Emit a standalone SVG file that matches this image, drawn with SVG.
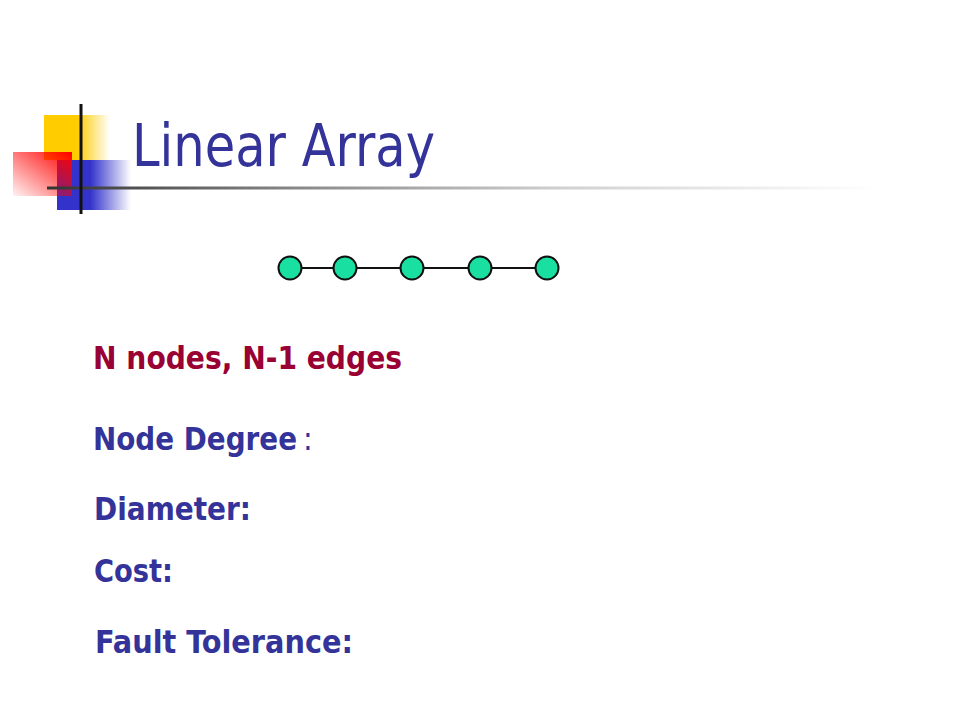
<svg xmlns="http://www.w3.org/2000/svg" width="960" height="720" viewBox="0 0 960 720">
<defs>
<linearGradient id="gY" x1="0" y1="0" x2="1" y2="0">
<stop offset="0" stop-color="#FFCC00"/><stop offset="0.5" stop-color="#FFCC00"/><stop offset="1" stop-color="#FFCC00" stop-opacity="0"/>
</linearGradient>
<linearGradient id="gB" x1="0" y1="0" x2="1" y2="0">
<stop offset="0" stop-color="#3333CC"/><stop offset="0.45" stop-color="#3333CC"/><stop offset="1" stop-color="#3333CC" stop-opacity="0"/>
</linearGradient>
<linearGradient id="gR" x1="1" y1="0" x2="0" y2="1">
<stop offset="0" stop-color="#FF0000"/><stop offset="1" stop-color="#FF0000" stop-opacity="0.05"/>
</linearGradient>
<linearGradient id="gL" x1="0" y1="0" x2="1" y2="0">
<stop offset="0" stop-color="#333333"/><stop offset="0.3" stop-color="#888888"/><stop offset="0.62" stop-color="#D0D0D0"/><stop offset="1" stop-color="#FFFFFF"/>
</linearGradient>
<style>
.node{fill:#19DFA0;stroke:#111;stroke-width:2}
.edge{stroke:#111;stroke-width:2}
.t{font-family:"DejaVu Sans Condensed","DejaVu Sans",sans-serif;font-weight:bold;font-size:32px;fill:#333399}
.red{fill:#990033}
</style>
</defs>
<rect width="960" height="720" fill="#FFFFFF"/>
<g id="logo">
<rect x="44" y="115" width="66" height="45" fill="url(#gY)"/>
<rect x="57" y="160" width="74" height="50" fill="url(#gB)"/>
<rect x="13" y="152" width="59" height="44" fill="url(#gR)"/>
<rect x="47" y="186.5" width="830" height="3" fill="url(#gL)"/>
<rect x="79.5" y="104" width="3" height="110" fill="#111"/>
</g>
<text id="title" x="132" y="166" font-family="DejaVu Sans Condensed, DejaVu Sans, sans-serif" font-size="58" fill="#333399" textLength="303" lengthAdjust="spacingAndGlyphs">Linear Array</text>
<g id="connectors">
<line class="edge" x1="302" y1="268" x2="333" y2="268"/>
<line class="edge" x1="357" y1="268" x2="400" y2="268"/>
<line class="edge" x1="424" y1="268" x2="468" y2="268"/>
<line class="edge" x1="492" y1="268" x2="535" y2="268"/>
</g>
<g id="n1"><circle class="node" cx="290" cy="268" r="11.5"/></g>
<g id="n2"><circle class="node" cx="345" cy="268" r="11.5"/></g>
<g id="n3"><circle class="node" cx="412" cy="268" r="11.5"/></g>
<g id="n4"><circle class="node" cx="480" cy="268" r="11.5"/></g>
<g id="n5"><circle class="node" cx="547" cy="268" r="11.5"/></g>
<text class="t red" x="93" y="369" textLength="309" lengthAdjust="spacingAndGlyphs">N nodes, N-1 edges</text>
<text class="t" x="93" y="450" textLength="204" lengthAdjust="spacingAndGlyphs">Node Degree</text>
<text class="t" x="303" y="450" style="font-weight:normal">:</text>
<text class="t" x="94" y="520" textLength="157" lengthAdjust="spacingAndGlyphs">Diameter:</text>
<text class="t" x="94" y="582" textLength="79" lengthAdjust="spacingAndGlyphs">Cost:</text>
<text class="t" x="95" y="653" textLength="258" lengthAdjust="spacingAndGlyphs">Fault Tolerance:</text>
</svg>
